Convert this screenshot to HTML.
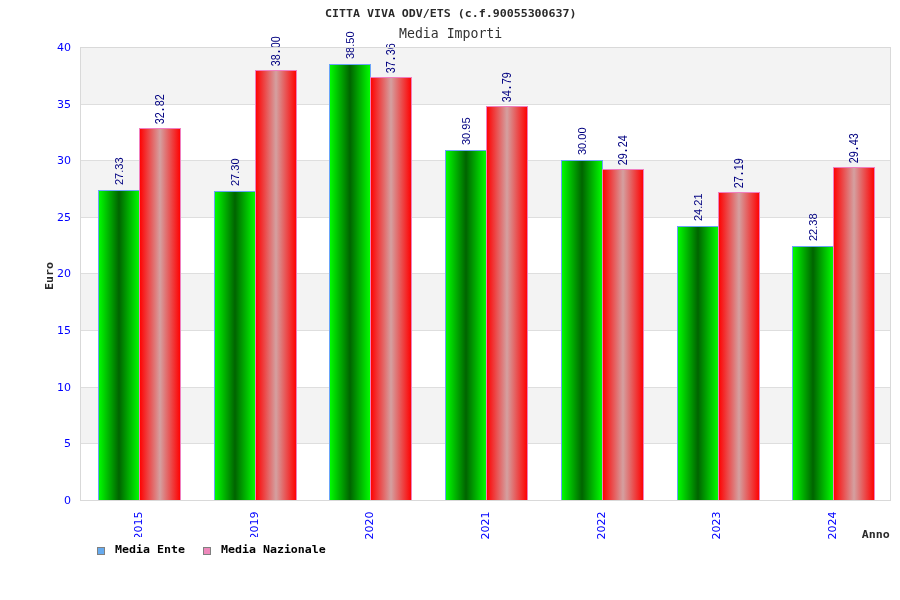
<!DOCTYPE html>
<html><head><meta charset="utf-8"><title>Media Importi</title>
<style>
html,body{margin:0;padding:0;background:#fff;}
svg{display:block}
.b7{font-family:"DejaVu Sans Mono","Liberation Mono",monospace;font-weight:bold;font-size:11px;fill:#2a2a2a}
.f6{font-family:"Liberation Sans",sans-serif;font-size:11px;fill:#000080}
.m6{font-family:"Liberation Sans",sans-serif;font-size:12.2px;fill:#000080}
.ax{font-family:"DejaVu Sans","Liberation Sans",sans-serif;font-size:11px;fill:#0000ff}
.sub{font-family:"DejaVu Sans Mono","Liberation Mono",monospace;font-size:13.2px;fill:#333}
</style></head><body>
<svg width="900" height="600" viewBox="0 0 900 600">
<defs>
<linearGradient id="gg" x1="0" x2="1" y1="0" y2="0"><stop offset="0" stop-color="#00ff00"/><stop offset="0.5" stop-color="#006400"/><stop offset="1" stop-color="#00ff00"/></linearGradient>
<linearGradient id="rg" x1="0" x2="1" y1="0" y2="0"><stop offset="0" stop-color="#ff0000"/><stop offset="0.5" stop-color="#d4a0a0"/><stop offset="1" stop-color="#ff0000"/></linearGradient>
</defs>
<rect width="900" height="600" fill="#fff"/>
<rect x="80" y="387" width="810" height="56" fill="#f3f3f3"/>
<rect x="80" y="273" width="810" height="57" fill="#f3f3f3"/>
<rect x="80" y="160" width="810" height="57" fill="#f3f3f3"/>
<rect x="80" y="47" width="810" height="57" fill="#f3f3f3"/>
<rect x="80" y="443" width="810" height="1" fill="#dedede"/>
<rect x="80" y="387" width="810" height="1" fill="#dedede"/>
<rect x="80" y="330" width="810" height="1" fill="#dedede"/>
<rect x="80" y="273" width="810" height="1" fill="#dedede"/>
<rect x="80" y="217" width="810" height="1" fill="#dedede"/>
<rect x="80" y="160" width="810" height="1" fill="#dedede"/>
<rect x="80" y="104" width="810" height="1" fill="#dedede"/>
<rect x="98.5" y="190.5" width="41" height="310" fill="url(#gg)" stroke="#6aa3f8" stroke-width="1"/>
<rect x="139.5" y="128.5" width="41" height="372" fill="url(#rg)" stroke="#f07fc0" stroke-width="1"/>
<rect x="214.5" y="191.5" width="41" height="309" fill="url(#gg)" stroke="#6aa3f8" stroke-width="1"/>
<rect x="255.5" y="70.5" width="41" height="430" fill="url(#rg)" stroke="#f07fc0" stroke-width="1"/>
<rect x="329.5" y="64.5" width="41" height="436" fill="url(#gg)" stroke="#6aa3f8" stroke-width="1"/>
<rect x="370.5" y="77.5" width="41" height="423" fill="url(#rg)" stroke="#f07fc0" stroke-width="1"/>
<rect x="445.5" y="150.5" width="41" height="350" fill="url(#gg)" stroke="#6aa3f8" stroke-width="1"/>
<rect x="486.5" y="106.5" width="41" height="394" fill="url(#rg)" stroke="#f07fc0" stroke-width="1"/>
<rect x="561.5" y="160.5" width="41" height="340" fill="url(#gg)" stroke="#6aa3f8" stroke-width="1"/>
<rect x="602.5" y="169.5" width="41" height="331" fill="url(#rg)" stroke="#f07fc0" stroke-width="1"/>
<rect x="677.5" y="226.5" width="41" height="274" fill="url(#gg)" stroke="#6aa3f8" stroke-width="1"/>
<rect x="718.5" y="192.5" width="41" height="308" fill="url(#rg)" stroke="#f07fc0" stroke-width="1"/>
<rect x="792.5" y="246.5" width="41" height="254" fill="url(#gg)" stroke="#6aa3f8" stroke-width="1"/>
<rect x="833.5" y="167.5" width="41" height="333" fill="url(#rg)" stroke="#f07fc0" stroke-width="1"/>
<text class="f6" transform="translate(123.0,185) rotate(-90)">27.33</text>
<text class="m6" x="0 6.78 15.05 20.35 27.13" transform="translate(163.9,124.3) rotate(-90) scale(0.8845,1)">32<tspan font-weight="bold">.</tspan>82</text>
<text class="f6" transform="translate(239.0,186) rotate(-90)">27.30</text>
<text class="m6" x="0 6.78 15.05 20.35 27.13" transform="translate(279.9,66.3) rotate(-90) scale(0.8845,1)">38<tspan font-weight="bold">.</tspan>00</text>
<text class="f6" transform="translate(354.0,59) rotate(-90)">38.50</text>
<text class="m6" x="0 6.78 15.05 20.35 27.13" transform="translate(394.9,73.3) rotate(-90) scale(0.8845,1)">37<tspan font-weight="bold">.</tspan>36</text>
<text class="f6" transform="translate(470.0,145) rotate(-90)">30.95</text>
<text class="m6" x="0 6.78 15.05 20.35 27.13" transform="translate(510.9,102.3) rotate(-90) scale(0.8845,1)">34<tspan font-weight="bold">.</tspan>79</text>
<text class="f6" transform="translate(586.0,155) rotate(-90)">30.00</text>
<text class="m6" x="0 6.78 15.05 20.35 27.13" transform="translate(626.9,165.3) rotate(-90) scale(0.8845,1)">29<tspan font-weight="bold">.</tspan>24</text>
<text class="f6" transform="translate(702.0,221) rotate(-90)">24.21</text>
<text class="m6" x="0 6.78 15.05 20.35 27.13" transform="translate(742.9,188.3) rotate(-90) scale(0.8845,1)">27<tspan font-weight="bold">.</tspan>19</text>
<text class="f6" transform="translate(817.0,241) rotate(-90)">22.38</text>
<text class="m6" x="0 6.78 15.05 20.35 27.13" transform="translate(857.9,163.3) rotate(-90) scale(0.8845,1)">29<tspan font-weight="bold">.</tspan>43</text>
<rect x="80.5" y="47.5" width="810" height="453" fill="none" stroke="#d9d9d9" stroke-width="1"/>
<text class="ax" x="71" y="504" text-anchor="end">0</text>
<text class="ax" x="71" y="447" text-anchor="end">5</text>
<text class="ax" x="71" y="391" text-anchor="end">10</text>
<text class="ax" x="71" y="334" text-anchor="end">15</text>
<text class="ax" x="71" y="277" text-anchor="end">20</text>
<text class="ax" x="71" y="221" text-anchor="end">25</text>
<text class="ax" x="71" y="164" text-anchor="end">30</text>
<text class="ax" x="71" y="108" text-anchor="end">35</text>
<text class="ax" x="71" y="51" text-anchor="end">40</text>
<text class="ax" transform="translate(141.75,539.6) rotate(-90)">2015</text>
<text class="ax" transform="translate(257.75,539.6) rotate(-90)">2019</text>
<text class="ax" transform="translate(372.75,539.6) rotate(-90)">2020</text>
<text class="ax" transform="translate(488.75,539.6) rotate(-90)">2021</text>
<text class="ax" transform="translate(604.75,539.6) rotate(-90)">2022</text>
<text class="ax" transform="translate(719.75,539.6) rotate(-90)">2023</text>
<text class="ax" transform="translate(835.75,539.6) rotate(-90)">2024</text>
<rect x="90" y="537" width="245" height="24" fill="#fff"/>
<rect x="97.5" y="547.5" width="7" height="7" fill="#66aaee" stroke="#808080"/>
<text class="b7" fill="#000" transform="translate(115,553) scale(1.057,1)" style="fill:#000">Media Ente</text>
<rect x="203.5" y="547.5" width="7" height="7" fill="#ee88bb" stroke="#808080"/>
<text class="b7" transform="translate(221,553) scale(1.057,1)" style="fill:#000">Media Nazionale</text>
<text class="b7" transform="translate(325,17) scale(1.057,1)">CITTA VIVA ODV/ETS (c.f.90055300637)</text>
<text class="sub" x="399" y="37.5">Media Importi</text>
<text class="b7" transform="translate(53,290) rotate(-90) scale(1.057,1)">Euro</text>
<text class="b7" transform="translate(861.7,538) scale(1.057,1)">Anno</text>
</svg></body></html>
